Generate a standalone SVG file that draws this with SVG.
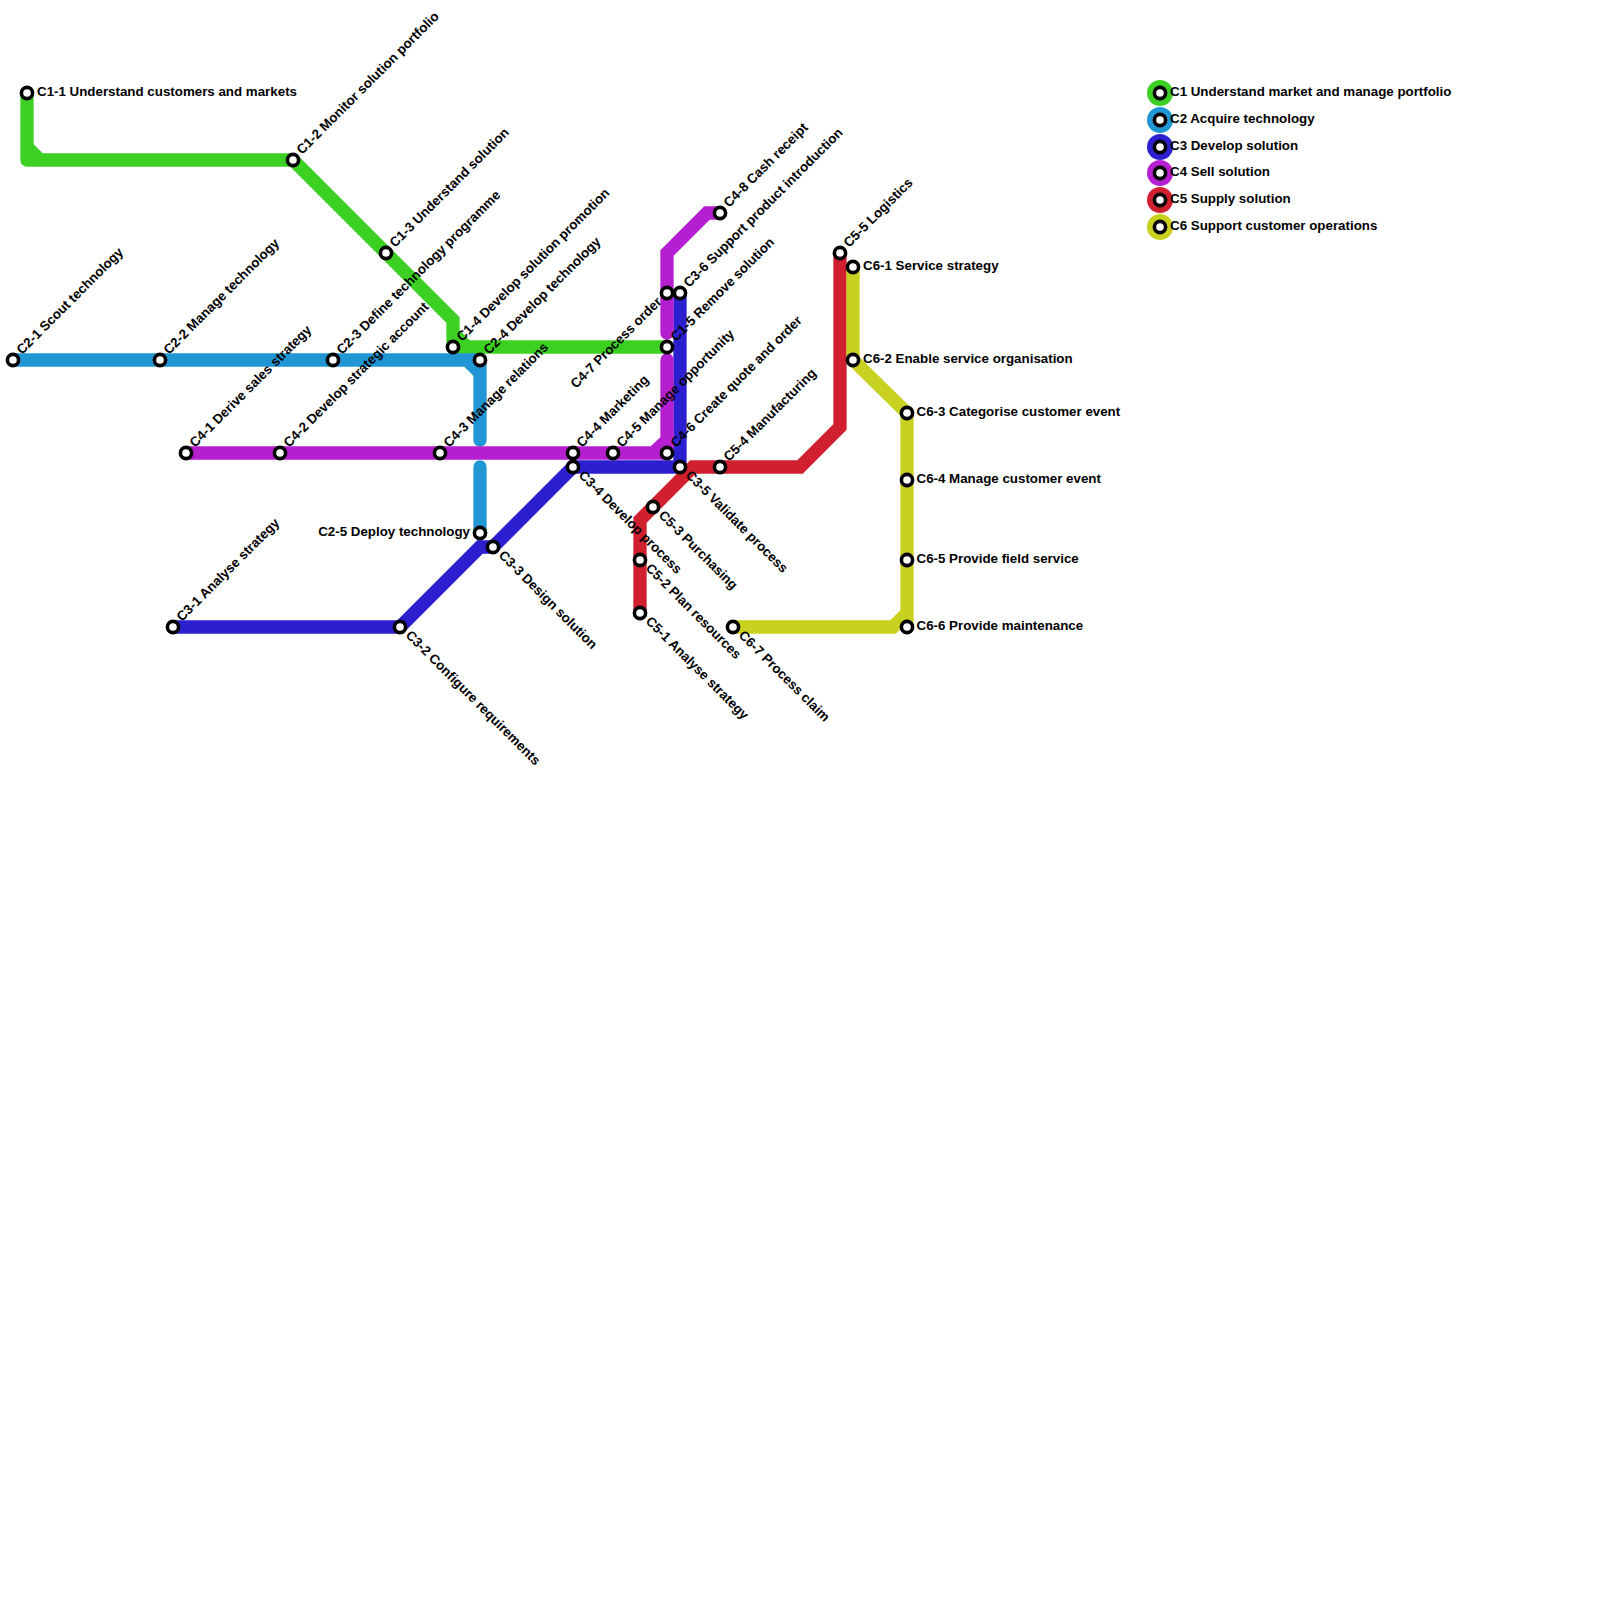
<svg xmlns="http://www.w3.org/2000/svg" width="1600" height="1600" viewBox="0 0 1600 1600">
<style>
text{font-family:"Liberation Sans",Arial,sans-serif;font-size:13.33px;font-weight:700;fill:#000}
.l{fill:none;stroke-width:13.3;stroke-linecap:round;stroke-linejoin:miter}
.c1{stroke:#3bd022}.c2{stroke:#2096d4}.c3{stroke:#2c1fd0}.c4{stroke:#b61fd0}.c5{stroke:#d02030}.c6{stroke:#c8d020}
.s{fill:#fff;stroke:#000;stroke-width:3.6}
</style>
<defs><circle id="st" r="5.6" class="s"/></defs>
<g id="connectors">
<path class="l c1" d="M27 93V160M27 160H293M27 147L40 160M293 160L453 320V347M453 347H667M453 333L467 347"/>
<path class="l c2" d="M13 360H480M467 360L480 373V440M480 360V373M480 467V533"/>
<path class="l c3" d="M173 627H400L480 547H493L573 467H680M680 467V293"/>
<path class="l c4" d="M186 453H667M653 453L667 440V360M667 453V440M667 333V253L707 213H720"/>
<path class="l c5" d="M640 613V520L693 467H800L840 427V253"/>
<path class="l c6" d="M853 267V360L907 413V627M907 613L893 627H733"/>
</g>
<g id="C1-1"><use href="#st" x="27" y="93"/><text x="37" y="96">C1-1 Understand customers and markets</text></g>
<g id="C1-2"><use href="#st" x="293" y="160"/><text transform="translate(302 155) rotate(-45)">C1-2 Monitor solution portfolio</text></g>
<g id="C1-3"><use href="#st" x="386" y="253"/><text transform="translate(395 248) rotate(-45)">C1-3 Understand solution</text></g>
<g id="C1-4"><use href="#st" x="453" y="347"/><text transform="translate(462 342) rotate(-45)">C1-4 Develop solution promotion</text></g>
<g id="C1-5"><use href="#st" x="667" y="347"/><text transform="translate(676 342) rotate(-45)">C1-5 Remove solution</text></g>
<g id="C2-1"><use href="#st" x="13" y="360"/><text transform="translate(22 355) rotate(-45)">C2-1 Scout technology</text></g>
<g id="C2-2"><use href="#st" x="160" y="360"/><text transform="translate(169 355) rotate(-45)">C2-2 Manage technology</text></g>
<g id="C2-3"><use href="#st" x="333" y="360"/><text transform="translate(342 355) rotate(-45)">C2-3 Define technology programme</text></g>
<g id="C2-4"><use href="#st" x="480" y="360"/><text transform="translate(489 355) rotate(-45)">C2-4 Develop technology</text></g>
<g id="C2-5"><use href="#st" x="480" y="533"/><text x="470" y="536" text-anchor="end">C2-5 Deploy technology</text></g>
<g id="C3-1"><use href="#st" x="173" y="627"/><text transform="translate(182 622) rotate(-45)">C3-1 Analyse strategy</text></g>
<g id="C3-2"><use href="#st" x="400" y="627"/><text transform="translate(405 636) rotate(45)">C3-2 Configure requirements</text></g>
<g id="C3-3"><use href="#st" x="493" y="547"/><text transform="translate(498 556) rotate(45)">C3-3 Design solution</text></g>
<g id="C3-4"><use href="#st" x="573" y="467"/><text transform="translate(578 476) rotate(45)">C3-4 Develop process</text></g>
<g id="C3-5"><use href="#st" x="680" y="467"/><text transform="translate(685 476) rotate(45)">C3-5 Validate process</text></g>
<g id="C3-6"><use href="#st" x="680" y="293"/><text transform="translate(689 288) rotate(-45)">C3-6 Support product introduction</text></g>
<g id="C4-1"><use href="#st" x="186" y="453"/><text transform="translate(195 448) rotate(-45)">C4-1 Derive sales strategy</text></g>
<g id="C4-2"><use href="#st" x="280" y="453"/><text transform="translate(289 448) rotate(-45)">C4-2 Develop strategic account</text></g>
<g id="C4-3"><use href="#st" x="440" y="453"/><text transform="translate(449 448) rotate(-45)">C4-3 Manage relations</text></g>
<g id="C4-4"><use href="#st" x="573" y="453"/><text transform="translate(582 448) rotate(-45)">C4-4 Marketing</text></g>
<g id="C4-5"><use href="#st" x="613" y="453"/><text transform="translate(622 448) rotate(-45)">C4-5 Manage opportunity</text></g>
<g id="C4-6"><use href="#st" x="667" y="453"/><text transform="translate(676 448) rotate(-45)">C4-6 Create quote and order</text></g>
<g id="C4-7"><use href="#st" x="667" y="293"/><text transform="translate(576 389) rotate(-45)">C4-7 Process order</text></g>
<g id="C4-8"><use href="#st" x="720" y="213"/><text transform="translate(729 208) rotate(-45)">C4-8 Cash receipt</text></g>
<g id="C5-1"><use href="#st" x="640" y="613"/><text transform="translate(645 622) rotate(45)">C5-1 Analyse strategy</text></g>
<g id="C5-2"><use href="#st" x="640" y="560"/><text transform="translate(645 569) rotate(45)">C5-2 Plan resources</text></g>
<g id="C5-3"><use href="#st" x="653" y="507"/><text transform="translate(658 516) rotate(45)">C5-3 Purchasing</text></g>
<g id="C5-4"><use href="#st" x="720" y="467"/><text transform="translate(729 462) rotate(-45)">C5-4 Manufacturing</text></g>
<g id="C5-5"><use href="#st" x="840" y="253"/><text transform="translate(849 248) rotate(-45)">C5-5 Logistics</text></g>
<g id="C6-1"><use href="#st" x="853" y="267"/><text x="863" y="270">C6-1 Service strategy</text></g>
<g id="C6-2"><use href="#st" x="853" y="360"/><text x="863" y="363">C6-2 Enable service organisation</text></g>
<g id="C6-3"><use href="#st" x="907" y="413"/><text x="916.5" y="416">C6-3 Categorise customer event</text></g>
<g id="C6-4"><use href="#st" x="907" y="480"/><text x="916.5" y="483">C6-4 Manage customer event</text></g>
<g id="C6-5"><use href="#st" x="907" y="560"/><text x="916.5" y="563">C6-5 Provide field service</text></g>
<g id="C6-6"><use href="#st" x="907" y="627"/><text x="916.5" y="630">C6-6 Provide maintenance</text></g>
<g id="C6-7"><use href="#st" x="733" y="627"/><text transform="translate(738 636) rotate(45)">C6-7 Process claim</text></g>
<g id="legend-C1"><circle cx="1160" cy="93" r="13" fill="#3bd022"/><use href="#st" x="1160" y="93"/><text x="1170" y="96">C1 Understand market and manage portfolio</text></g>
<g id="legend-C2"><circle cx="1160" cy="120" r="13" fill="#2096d4"/><use href="#st" x="1160" y="120"/><text x="1170" y="123">C2 Acquire technology</text></g>
<g id="legend-C3"><circle cx="1160" cy="147" r="13" fill="#2c1fd0"/><use href="#st" x="1160" y="147"/><text x="1170" y="150">C3 Develop solution</text></g>
<g id="legend-C4"><circle cx="1160" cy="173" r="13" fill="#b61fd0"/><use href="#st" x="1160" y="173"/><text x="1170" y="176">C4 Sell solution</text></g>
<g id="legend-C5"><circle cx="1160" cy="200" r="13" fill="#d02030"/><use href="#st" x="1160" y="200"/><text x="1170" y="203">C5 Supply solution</text></g>
<g id="legend-C6"><circle cx="1160" cy="227" r="13" fill="#c8d020"/><use href="#st" x="1160" y="227"/><text x="1170" y="230">C6 Support customer operations</text></g>
</svg>
